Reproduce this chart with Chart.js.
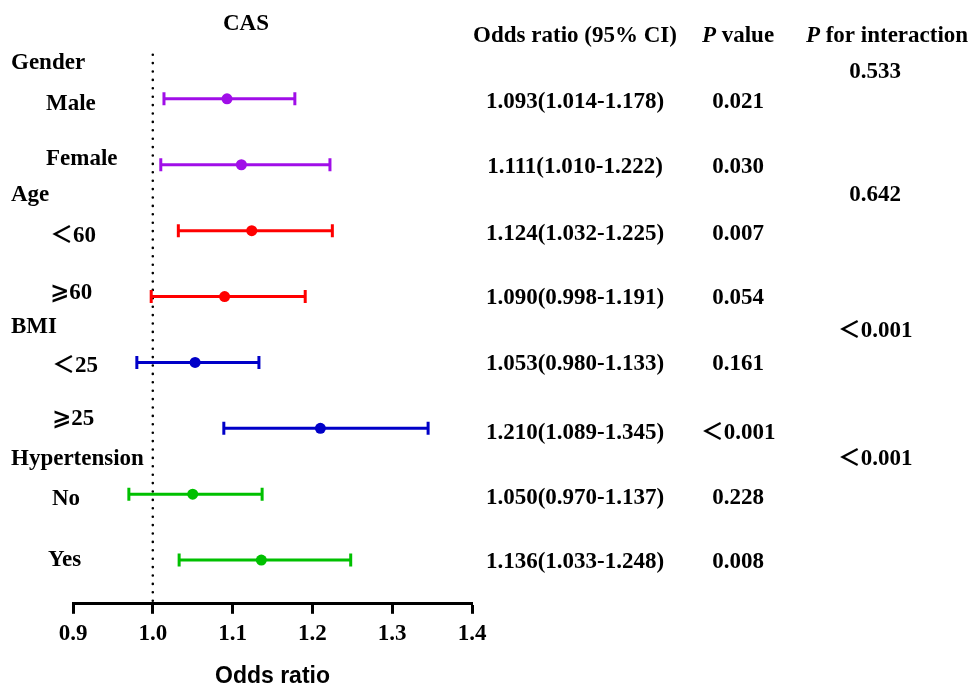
<!DOCTYPE html>
<html><head><meta charset="utf-8">
<script src="https://cdn.jsdelivr.net/npm/chart.js@4.4.1/dist/chart.umd.min.js"></script>
<style>html,body{margin:0;padding:0;background:#fff;}#wrap{width:974px;height:687px;position:relative;}</style>
</head><body><div id="wrap"><canvas id="c" width="974" height="687"></canvas></div>
<script>
// ---- data ----
const categories = ['Male', 'Female', '＜60', '⩾60', '＜25', '⩾25', 'No', 'Yes'];
const groups = ['Gender', 'Age', 'BMI', 'Hypertension'];
const groupOfRow = [0, 0, 1, 1, 2, 2, 3, 3];
const orValues = [1.093, 1.111, 1.124, 1.090, 1.053, 1.210, 1.050, 1.136];
const ciLower  = [1.014, 1.010, 1.032, 0.998, 0.980, 1.089, 0.970, 1.033];
const ciUpper  = [1.178, 1.222, 1.225, 1.191, 1.133, 1.345, 1.137, 1.248];
const orText = ['1.093(1.014-1.178)', '1.111(1.010-1.222)', '1.124(1.032-1.225)', '1.090(0.998-1.191)',
                '1.053(0.980-1.133)', '1.210(1.089-1.345)', '1.050(0.970-1.137)', '1.136(1.033-1.248)'];
const pValues = ['0.021', '0.030', '0.007', '0.054', '0.161', '＜0.001', '0.228', '0.008'];
const pInteraction = ['0.533', '0.642', '＜0.001', '＜0.001'];
const xTickLabels = ['0.9', '1.0', '1.1', '1.2', '1.3', '1.4'];
const refValue = 1.0;
const groupColors = ['#a00ee8', '#ff0000', '#0000c8', '#00c000'];

// ---- style ----
const SERIF = '"Liberation Serif", "DejaVu Sans", "Noto Sans CJK SC", serif';
const SANS = '"Liberation Sans", Arial, sans-serif';
const FS = 23;
const DY = 2;
const rows = categories.map((_, i) => i + 1);
const catLabelX = [46, 46, 50, 50, 52, 52, 52, 48];
const catLabelDy = [3, -8, 3, -5, 2, -11, 3, -2];
const textDy = [1, 0, 1, 0, 0, 3, 2, 0];
const interDy = [9, 0, 4, 0];

const datasets = [];
datasets.push({
  type: 'scatter', order: 0,
  data: rows.map((r, i) => ({x: orValues[i], y: r})),
  pointRadius: 5.5, pointHoverRadius: 5.5, pointBorderWidth: 0,
  backgroundColor: rows.map((r, i) => groupColors[groupOfRow[i]]),
  borderColor: rows.map((r, i) => groupColors[groupOfRow[i]])
});
rows.forEach((r, i) => {
  const col = groupColors[groupOfRow[i]];
  datasets.push({
    type: 'line', order: 1,
    data: [{x: ciLower[i], y: r}, {x: ciUpper[i], y: r}],
    borderColor: col, borderWidth: 3,
    pointStyle: 'line', rotation: 90, pointRadius: 6.5, pointHoverRadius: 6.5,
    pointBorderColor: col, pointBorderWidth: 3, pointBackgroundColor: col
  });
});
datasets.push({
  type: 'line', order: 2,
  data: [{x: refValue, y: 0.33}, {x: refValue, y: 8.62}],
  borderColor: '#000', borderWidth: 2.6, borderDash: [0, 8.4], borderCapStyle: 'round',
  pointRadius: 0
});

function drawMixed(ctx, parts, cx, y) {
  let w = 0;
  parts.forEach(p => { ctx.font = (p.italic ? 'italic ' : '') + 'bold ' + FS + 'px ' + SERIF; p.w = ctx.measureText(p.t).width; w += p.w; });
  let x = cx - w / 2;
  ctx.textAlign = 'left';
  parts.forEach(p => { ctx.font = (p.italic ? 'italic ' : '') + 'bold ' + FS + 'px ' + SERIF; ctx.fillText(p.t, x, y); x += p.w; });
}

const textPlugin = {
  id: 'forestText',
  afterDraw(chart) {
    const ctx = chart.ctx, ys = chart.scales.y;
    ctx.save();
    ctx.fillStyle = '#000';
    ctx.textBaseline = 'middle';
    ctx.font = 'bold ' + FS + 'px ' + SERIF;
    ctx.textAlign = 'center';
    ctx.fillText('CAS', 246, 22 + DY);
    ctx.fillText('Odds ratio (95% CI)', 575, 34 + DY);
    drawMixed(ctx, [{t: 'P', italic: true}, {t: ' value'}], 738, 34 + DY);
    drawMixed(ctx, [{t: 'P', italic: true}, {t: ' for interaction'}], 887, 34 + DY);
    ctx.font = 'bold ' + FS + 'px ' + SERIF;
    groups.forEach((g, gi) => {
      const first = groupOfRow.indexOf(gi) + 1;
      const y = ys.getPixelForValue(first - 0.57) + DY;
      ctx.textAlign = 'left';
      ctx.fillText(g, 11, y);
      ctx.textAlign = 'center';
      ctx.fillText(pInteraction[gi], 875, y + interDy[gi]);
    });
    rows.forEach((r, i) => {
      const y = ys.getPixelForValue(r) + DY;
      ctx.textAlign = 'left';
      ctx.fillText(categories[i], catLabelX[i], y + catLabelDy[i]);
      ctx.textAlign = 'center';
      ctx.fillText(orText[i], 575, y + textDy[i]);
      ctx.fillText(pValues[i], 738, y + textDy[i]);
    });
    ctx.restore();
  }
};

new Chart(document.getElementById('c'), {
  data: {datasets},
  plugins: [textPlugin],
  options: {
    responsive: false, animation: false, devicePixelRatio: 1,
    layout: {padding: {left: 73, right: 502, top: 52, bottom: 0}},
    plugins: {legend: {display: false}, tooltip: {enabled: false}},
    events: [],
    scales: {
      x: {
        type: 'linear', min: 0.9, max: 1.4, position: 'bottom',
        grid: {display: true, drawOnChartArea: false, drawTicks: true, tickLength: 10, tickWidth: 3, tickColor: '#000'},
        border: {display: true, width: 3, color: '#000'},
        ticks: {stepSize: 0.1, padding: 6, color: '#000', font: {family: SERIF, size: FS, weight: 'bold'},
                callback: (v, i) => xTickLabels[i]},
        title: {display: true, text: 'Odds ratio', color: '#000', font: {family: SANS, size: FS, weight: 'bold'}, padding: {top: 9, bottom: -3}}
      },
      y: {type: 'linear', min: 0.289, max: 8.663, reverse: true, display: false}
    }
  }
});
</script></body></html>
